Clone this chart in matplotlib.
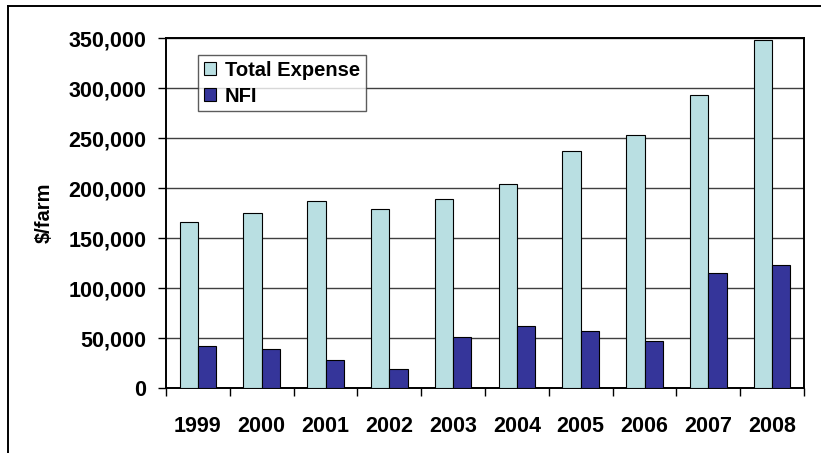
import matplotlib
matplotlib.use("Agg")
import matplotlib.pyplot as plt
from matplotlib.lines import Line2D
from matplotlib.ticker import FuncFormatter, FixedLocator
import numpy as np

years = ["1999", "2000", "2001", "2002", "2003", "2004", "2005", "2006", "2007", "2008"]
total_expense = [166000, 175000, 187000, 179000, 189000, 204000, 237000, 253000, 293000, 348000]
nfi = [42000, 39000, 28000, 19000, 51000, 62000, 57000, 47000, 115000, 123000]

plt.rcParams['font.family'] = ['Liberation Sans', 'DejaVu Sans']
plt.rcParams['font.weight'] = 'bold'

fig = plt.figure(figsize=(8.21, 4.53), dpi=100)
ax = fig.add_axes([166 / 821, 65 / 453, 638 / 821, 350 / 453])

x = np.arange(len(years))
w = 1 / 3.5
light = '#B9DFE2'
dark = '#35359A'

ax.set_axisbelow(True)
ax.yaxis.grid(True, color='#404040', linewidth=1.0)
ax.bar(x - w / 2, total_expense, w, color=light, edgecolor='black', linewidth=0.8,
       label='Total Expense', zorder=3)
ax.bar(x + w / 2, nfi, w, color=dark, edgecolor='black', linewidth=0.8,
       label='NFI', zorder=3)

ax.set_xlim(-0.5, len(years) - 0.5)
ax.set_ylim(0, 350000)
ax.set_yticks(np.arange(0, 350001, 50000))
ax.yaxis.set_major_formatter(FuncFormatter(lambda v, p: f"{int(v):,}"))

ax.set_xticks(x)
ax.set_xticklabels(years)
ax.xaxis.set_minor_locator(FixedLocator(np.arange(-0.5, len(years), 1.0)))
ax.tick_params(axis='x', which='major', length=0, pad=20, labelsize=15.5)
ax.tick_params(axis='x', which='minor', length=6, width=1, direction='out', color='black')
ax.tick_params(axis='y', length=6, width=1, direction='out', pad=8, labelsize=15.5)
for lbl in ax.get_xticklabels() + ax.get_yticklabels():
    lbl.set_fontweight('bold')

for s in ax.spines.values():
    s.set_color('black')
    s.set_linewidth(1.4)

ax.set_ylabel('$/farm', fontsize=14.5, fontweight='bold', labelpad=11)

leg = ax.legend(loc='upper left', bbox_to_anchor=(32 / 638, 1 - 17 / 350),
                frameon=True, fancybox=False, shadow=False, fontsize=14.5,
                handlelength=0.6, handleheight=0.6, handletextpad=0.45,
                borderpad=0.28, labelspacing=0.35, borderaxespad=0)
leg.get_frame().set_edgecolor('#333333')
leg.get_frame().set_linewidth(1.0)
for t in leg.get_texts():
    t.set_fontweight('bold')

# outer chart frame (left and top edges)
fig.add_artist(Line2D([7.5 / 821, 7.5 / 821], [0, 1 - 6 / 453],
                      transform=fig.transFigure, color='black', linewidth=1.4))
fig.add_artist(Line2D([7.5 / 821, 1], [1 - 6 / 453, 1 - 6 / 453],
                      transform=fig.transFigure, color='black', linewidth=1.4))

fig.savefig('out.png', dpi=100)
